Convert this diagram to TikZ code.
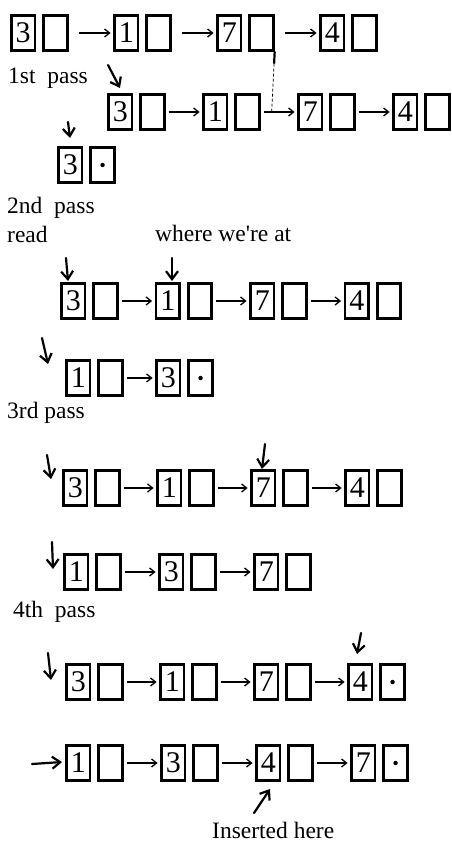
\documentclass[tikz,border=0pt]{standalone}
\usepackage{fontspec}
\setmainfont{Liberation Serif}
\usetikzlibrary{arrows.meta, positioning, calc}
\tikzset{
	valbox/.style ={rectangle, draw=black, line width=2.8pt, minimum width=23.5pt, minimum height=34.5pt, inner sep=0pt, font=\fontsize{30}{30}\selectfont},
	ptrbox/.style ={rectangle, draw=black, line width=2.8pt, minimum width=23.5pt, minimum height=34.5pt, inner sep=0pt},
	link/.style   ={-{Straight Barb[length=5pt, width=8pt]}, line width=1.3pt},
	hand/.style   ={-{Straight Barb[length=8pt, width=12pt]}, line width=2.2pt, line cap=round},
	lbl/.style    ={anchor=base west, inner sep=0pt, font=\fontsize{23.5}{26}\selectfont},
}
\begin{document}
\begin{tikzpicture}[x=1pt, y=-1pt]
	\useasboundingbox (0,0) rectangle (451,842);
	% the lists: row / centre y / left x / pitch / gap after pointer / values
	\foreach \row/\y/\xs/\pitch/\gap/\vals in {1/33/10/103/10/{3,1,7,4}, 2/112/107/95/3/{3,1,7,4}, 3/165/57/95/3/{3},
			4/301/60/94.5/3/{3,1,7,4}, 5/378/65/90/3/{1,3}, 6/488/62/94/3/{3,1,7,4}, 7/572/63/95/3/{1,3,7},
			8/682/65/94/3/{3,1,7,4}, 9/763/65/95/3/{1,3,4,7}} {
		\foreach \v [count=\i, remember=\i as \last (initially 0)] in \vals {
			\node[valbox] (r\row v\i) at ({\xs+13.25+(\i-1)*\pitch}, \y) {\v};
			\node[ptrbox, right=6pt of r\row v\i] (r\row p\i) {};
			\ifnum\i>1 \draw[link, shorten <=\gap pt, shorten >=2.5pt] (r\row p\last) -- (r\row v\i); \fi
		}
	}
	% nil pointers
	\foreach \n in {r3p1, r5p2, r8p4, r9p4} \fill (\n) circle (2.2pt);
	% pointer of the 7 cell dropped onto the 1st pass list
	\coordinate (join) at ($(r2p2.east)!0.3!(r2v3.west)$);
	\draw[line width=2.2pt] (r1p3.south east) -- ($(r1p3.south east)!0.2!(join)$);
	\draw[densely dashed, line width=0.7pt] ($(r1p3.south east)!0.2!(join)$) -- (join);
	% hand drawn markers
	\foreach \a/\b in {{108,65}/{120,88}, {68,122}/{70,138}, {66,258}/{68,281}, {172,258}/{172,281},
			{42,338}/{48,364}, {47,455}/{51,479}, {265,444}/{262,469}, {52,542}/{53,569},
			{361,633}/{357,654}, {48,653}/{51,680}, {32,764}/{62,762}, {254,813}/{270,789}}
		\draw[hand] (\a) -- (\b);
	% labels
	\node[lbl] (l1) at (8,84) {1st\ \ pass};
	\node[lbl] (l2) at (7,214) {2nd\ \ pass};
	\node[lbl] (l3) at (7,242) {read};
	\node[lbl] (l4) at (155,241) {where we\textquotesingle re at};
	\node[lbl] (l5) at (7,418) {3rd pass};
	\node[lbl] (l6) at (13,617) {4th\ \ pass};
	\node[lbl] (l7) at (212,838) {Inserted here};
\end{tikzpicture}
\end{document}
